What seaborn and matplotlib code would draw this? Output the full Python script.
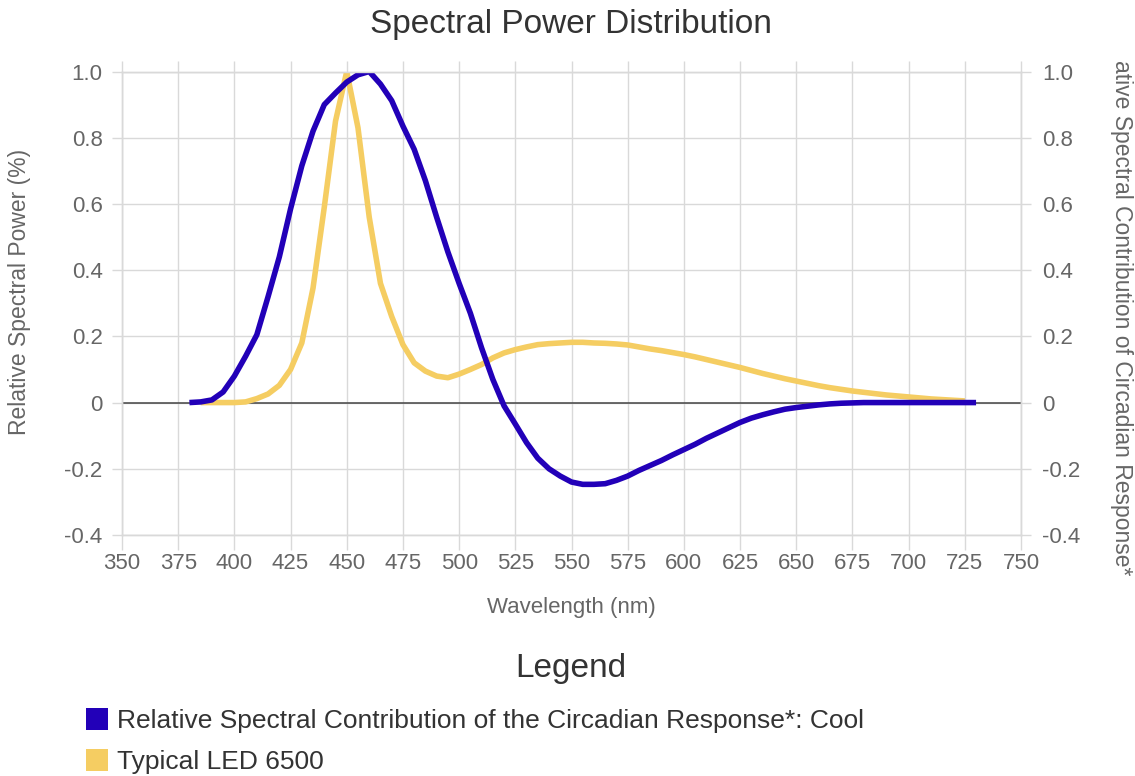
import matplotlib
matplotlib.use("Agg")
import matplotlib.pyplot as plt
import seaborn as sns
import pandas as pd
from matplotlib.patches import Patch

# ---------------- data ----------------
chart_title = "Spectral Power Distribution"
legend_title = "Legend"
x_label = "Wavelength (nm)"
y_label_left = "Relative Spectral Power (%)"
y_label_right = "ative Spectral Contribution of Circadian Response*"

series_names = ["Relative Spectral Contribution of the Circadian Response*: Cool",
                "Typical LED 6500"]
series_colors = ["#2200B8", "#F5CD62"]

circ_wl = list(range(380, 735, 5))
circ_val = [0.0, 0.002, 0.008, 0.032, 0.08, 0.14, 0.205, 0.32, 0.44, 0.585,
            0.715, 0.82, 0.90, 0.935, 0.968, 0.99, 1.0, 0.962, 0.912, 0.835,
            0.765, 0.67, 0.56, 0.455, 0.36, 0.27, 0.165, 0.07, -0.01, -0.065,
            -0.121, -0.168, -0.20, -0.222, -0.24, -0.247, -0.247, -0.245, -0.235, -0.222,
            -0.205, -0.19, -0.175, -0.158, -0.142, -0.126, -0.108, -0.092, -0.076, -0.06,
            -0.047, -0.037, -0.028, -0.02, -0.015, -0.011, -0.007, -0.004, -0.002, -0.001,
            0, 0, 0, 0, 0, 0, 0, 0, 0, 0,
            0]

led_wl = list(range(385, 730, 5))
led_val = [0, 0, 0, 0, 0.002, 0.012, 0.026, 0.052, 0.10, 0.18,
           0.346, 0.59, 0.85, 1.0, 0.83, 0.56, 0.36, 0.26, 0.175, 0.12,
           0.095, 0.08, 0.075, 0.086, 0.1, 0.115, 0.135, 0.15, 0.16, 0.168,
           0.175, 0.178, 0.18, 0.182, 0.182, 0.18, 0.179, 0.177, 0.174, 0.168,
           0.162, 0.157, 0.151, 0.145, 0.138, 0.13, 0.122, 0.114, 0.106, 0.097,
           0.088, 0.08, 0.072, 0.065, 0.058, 0.051, 0.045, 0.04, 0.035, 0.031,
           0.027, 0.023, 0.02, 0.017, 0.014, 0.011, 0.009, 0.007, 0.005]

x_ticks = [350, 375, 400, 425, 450, 475, 500, 525, 550, 575, 600, 625, 650, 675, 700, 725, 750]
y_ticks = [-0.4, -0.2, 0, 0.2, 0.4, 0.6, 0.8, 1.0]
y_tick_labels = ["-0.4", "-0.2", "0", "0.2", "0.4", "0.6", "0.8", "1.0"]

# ---------------- styling ----------------
sns.set_style("white")
plt.rcParams["font.family"] = ["Liberation Sans", "DejaVu Sans"]
plt.rcParams["axes.unicode_minus"] = False

W, H = 1135, 776
fig = plt.figure(figsize=(W / 100, H / 100), dpi=100)
ax = fig.add_axes([122 / W, 1 - 535 / H, (1021 - 122) / W, (535 - 71.5) / H])

grid_c = "#d9d9d9"
tick_c = "#666666"

df_circ = pd.DataFrame({"wl": circ_wl, "val": circ_val})
df_led = pd.DataFrame({"wl": led_wl, "val": led_val})

sns.lineplot(data=df_led, x="wl", y="val", color=series_colors[1], lw=4,
             ax=ax, solid_joinstyle="round", solid_capstyle="butt", zorder=3)
sns.lineplot(data=df_circ, x="wl", y="val", color=series_colors[0], lw=4,
             ax=ax, solid_joinstyle="round", solid_capstyle="butt", zorder=4)

ax.set_xlim(350, 750)
ax.set_ylim(-0.4, 1.0)
ax.set_xticks(x_ticks)
ax.set_xticklabels([str(t) for t in x_ticks])
ax.set_yticks(y_ticks)
ax.set_yticklabels(y_tick_labels)
ax.grid(True, color=grid_c, lw=1.0, zorder=0)
ax.axhline(0, color="#444444", lw=1.1, zorder=2)
for s in ax.spines.values():
    s.set_color(grid_c)
    s.set_linewidth(1.0)
ax.set_xlabel("")
ax.set_ylabel("")
ax.tick_params(axis="x", bottom=True, top=False, length=11, width=1.0, color=grid_c,
               pad=2, labelsize=16, labelcolor=tick_c)
ax.tick_params(axis="y", left=True, right=False, length=7, width=1.0, color=grid_c,
               pad=7, labelsize=16, labelcolor=tick_c)

tw = ax.twinx()
tw.set_ylim(-0.4, 1.0)
tw.set_yticks(y_ticks)
tw.set_yticklabels(y_tick_labels)
tw.tick_params(axis="y", right=True, left=False, length=7, width=1.0, color=grid_c,
               pad=8, labelsize=16, labelcolor=tick_c)
tw.xaxis.set_visible(True)
tw.tick_params(axis="x", top=True, bottom=False, labeltop=False, labelbottom=False,
               length=8, width=1.0, color=grid_c)
for s in tw.spines.values():
    s.set_color(grid_c)
    s.set_linewidth(1.0)

# ---------------- texts ----------------
fig.text(571 / W, 1 - 24 / H, chart_title, ha="center", va="center",
         fontsize=24, color="#333333")
fig.text(571 / W, 1 - 607 / H, x_label, ha="center", va="center",
         fontsize=16, color=tick_c)
fig.text(20 / W, 1 - 291.5 / H, y_label_left, rotation=90, ha="center", va="center",
         fontsize=16.5, color=tick_c)
fig.text(1122 / W, 1 - 318 / H, y_label_right, rotation=-90, ha="center", va="center",
         fontsize=16.5, color=tick_c)
fig.text(571 / W, 1 - 668 / H, legend_title, ha="center", va="center",
         fontsize=24, color="#333333")

handles = [Patch(facecolor=c, edgecolor="none") for c in series_colors]
fig.legend(handles, series_names, loc="upper left",
           bbox_to_anchor=(86 / W, 1 - 708 / H), frameon=False,
           fontsize=19, labelcolor="#333333", handlelength=0.82, handleheight=0.9,
           handletextpad=0.36, labelspacing=0.6, borderaxespad=0, borderpad=0)

fig.savefig("out.png", dpi=100)
